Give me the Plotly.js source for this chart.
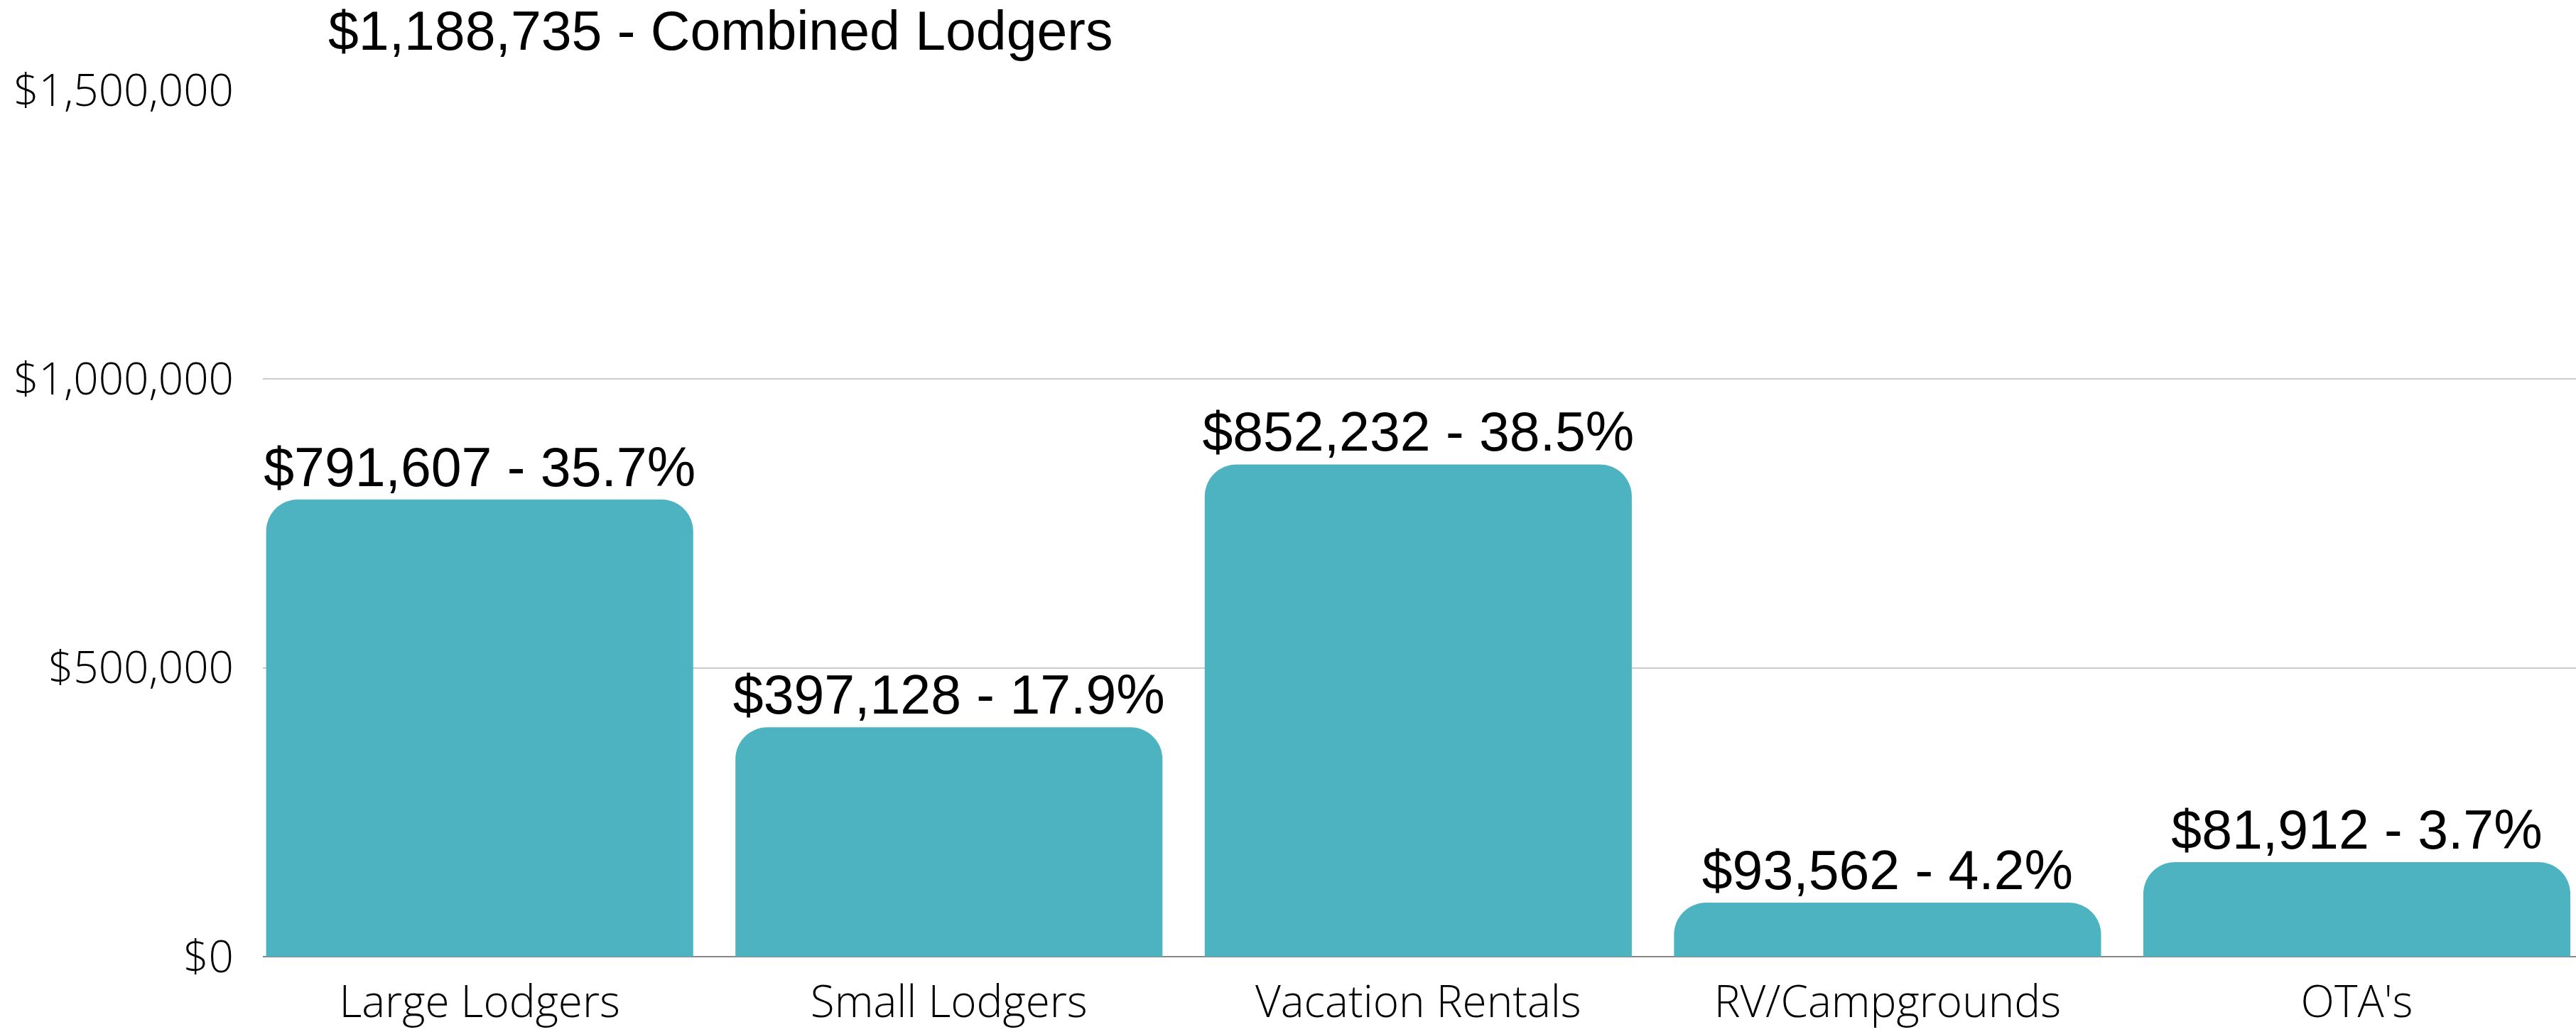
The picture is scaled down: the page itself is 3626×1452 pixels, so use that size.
<!DOCTYPE html>
<html>
<head>
<meta charset="utf-8">
<script src="https://cdn.plot.ly/plotly-3.0.1.min.js"></script>
<style>
  html, body { margin: 0; padding: 0; background: #fff; }
  #chart { width: 3626px; height: 1452px; }
</style>
</head>
<body>
<div id="chart"></div>
<script>
// Data
const categories = ["Large Lodgers", "Small Lodgers", "Vacation Rentals", "RV/Campgrounds", "OTA's"];
const barValues = [791607, 397128, 852232, 93562, 163800];
const labelAmounts = ["$791,607", "$397,128", "$852,232", "$93,562", "$81,912"];
const labelShares = ["35.7%", "17.9%", "38.5%", "4.2%", "3.7%"];
const titleText = "$1,188,735 - Combined Lodgers";
const yTickValues = [0, 500000, 1000000, 1500000];
const yTickLabels = ["$0", "$500,000", "$1,000,000", "$1,500,000"];

const barText = labelAmounts.map((a, i) => a + " - " + labelShares[i]);
const sans = "'Liberation Sans', Arial, sans-serif";
const thin = "'Open Sans', 'Noto Sans', sans-serif";

const trace = {
  type: "bar",
  x: categories,
  y: barValues,
  text: barText,
  textposition: "outside",
  constraintext: "none",
  cliponaxis: false,
  textfont: { family: sans, size: 77, color: "#000" },
  marker: { color: "#4DB3C0", cornerradius: 45, line: { width: 0 } },
  hoverinfo: "none"
};

const layout = {
  width: 3626,
  height: 1452,
  paper_bgcolor: "#fff",
  plot_bgcolor: "#fff",
  margin: { l: 370, r: 0, t: 127, b: 106, pad: 0 },
  bargap: 0.09,
  showlegend: false,
  title: {
    text: titleText,
    font: { family: sans, size: 77, color: "#000" },
    x: 462 / 3626,
    xanchor: "left",
    xref: "container",
    y: 0.989,
    yanchor: "top",
    yref: "container",
    pad: { t: 0, l: 0 }
  },
  xaxis: {
    type: "category",
    range: [-0.462, 4.467],
    showgrid: false,
    showline: false,
    zeroline: false,
    ticks: "",
    ticklabelstandoff: 22,
    tickfont: { family: thin, size: 62, color: "#000", weight: 300 }
  },
  yaxis: {
    range: [0, 1500000],
    tickvals: yTickValues,
    ticktext: yTickLabels,
    showgrid: true,
    gridcolor: "#CCCCCC",
    gridwidth: 2,
    zeroline: true,
    zerolinecolor: "#888888",
    zerolinewidth: 2,
    showline: false,
    ticks: "",
    ticklabelstandoff: 40,
    tickfont: { family: thin, size: 62, color: "#000", weight: 300 }
  }
};

Plotly.newPlot("chart", [trace], layout, { displayModeBar: false, staticPlot: true });
</script>
</body>
</html>
